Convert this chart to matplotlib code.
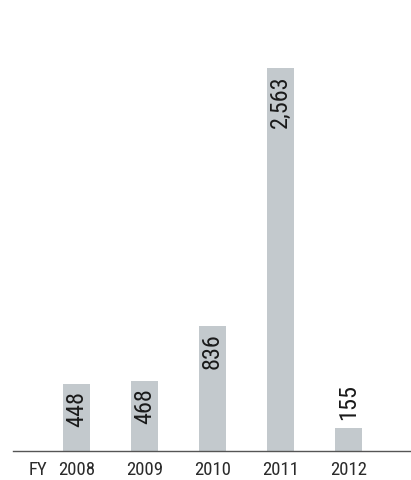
import matplotlib
matplotlib.use("Agg")
import matplotlib.pyplot as plt

years = ["2008", "2009", "2010", "2011", "2012"]
values = [448, 468, 836, 2563, 155]
value_labels = ["448", "468", "836", "2,563", "155"]
inside = [True, True, True, True, False]

plt.rcParams['font.family'] = ['Roboto Condensed', 'DejaVu Sans']

fig = plt.figure(figsize=(4.11, 4.81), dpi=100)
ax = fig.add_axes([13/411, (481-451.7)/481, 398/411, 451.7/481])

x = list(range(len(years)))
ax.bar(x, values, width=0.40, color="#c3c9cd", zorder=2)

ax.set_xlim(-0.937, 4.92)
ax.set_ylim(0, 3025)

for s in ["top", "right", "left"]:
    ax.spines[s].set_visible(False)
ax.spines["bottom"].set_color("#555555")
ax.spines["bottom"].set_linewidth(1.0)
ax.set_yticks([])
ax.set_xticks(x)
ax.set_xticklabels(years, fontsize=13.5, color="#2a2a2a")
ax.tick_params(axis="x", length=0, pad=6.5)

ax.annotate("FY", (-0.57, 0), xycoords=("data", "axes fraction"),
            xytext=(0, -6.5), textcoords="offset points",
            ha="center", va="top", fontsize=13.5, color="#2a2a2a")

for xi, v, lab, ins in zip(x, values, value_labels, inside):
    if ins:
        ax.annotate(lab, (xi, v), xytext=(0, -4.5), textcoords="offset points",
                    rotation=90, ha="center", va="top", fontsize=17.5, color="#1a1a1a")
    else:
        ax.annotate(lab, (xi, v), xytext=(0, 6), textcoords="offset points",
                    rotation=90, ha="center", va="bottom", fontsize=17.5, color="#1a1a1a")

fig.savefig("out.png", dpi=100)
